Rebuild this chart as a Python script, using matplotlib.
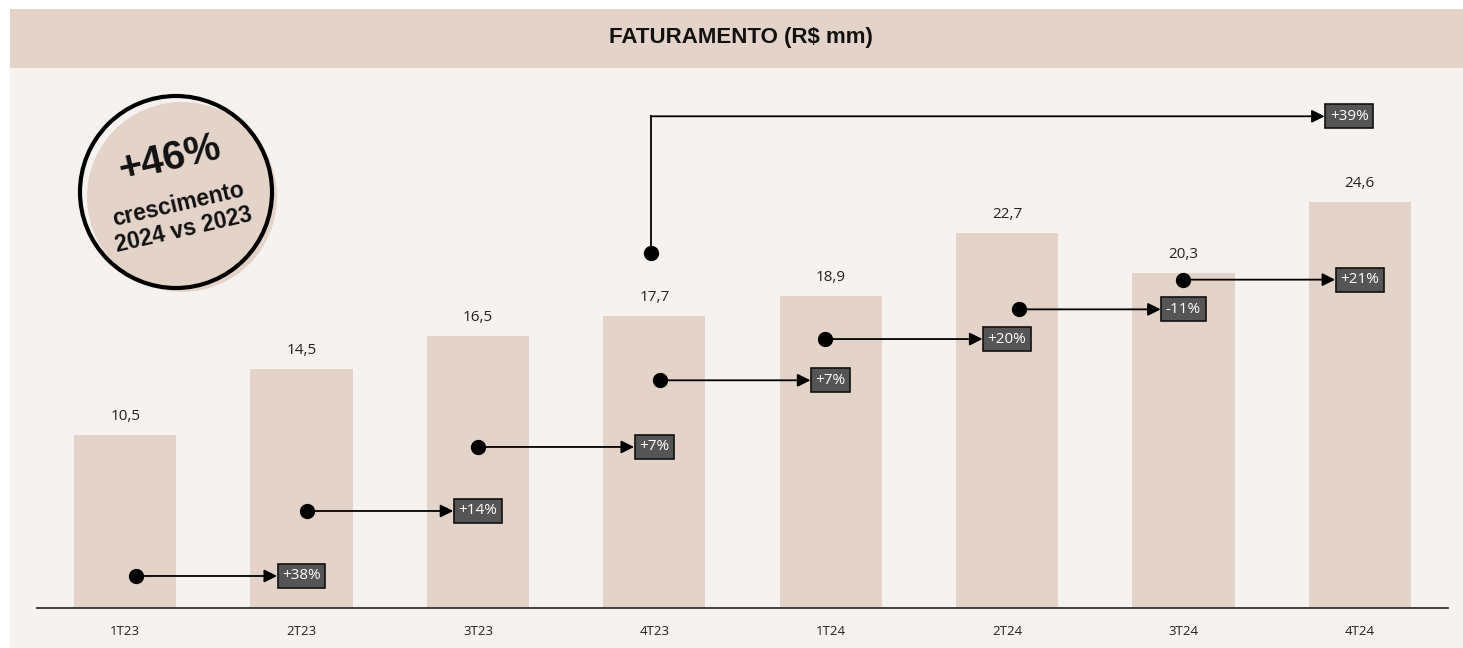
import matplotlib
matplotlib.use("Agg")
import matplotlib.pyplot as plt
from matplotlib.patches import Rectangle, Circle

# ---- data ----
categories = ["1T23", "2T23", "3T23", "4T23", "1T24", "2T24", "3T24", "4T24"]
revenue = [10.5, 14.5, 16.5, 17.7, 18.9, 22.7, 20.3, 24.6]
value_labels = ["10,5", "14,5", "16,5", "17,7", "18,9", "22,7", "20,3", "24,6"]
qoq_labels = ["+38%", "+14%", "+7%", "+7%", "+20%", "-11%", "+21%"]
qoq_levels = [1.94, 5.88, 9.76, 13.8, 16.3, 18.1, 19.9]
qoq_dot_offsets = [0.06, 0.03, 0.0, 0.03, -0.03, 0.07, 0.0]
yoy_label = "+39%"
yoy_from, yoy_to = 3, 7
yoy_dot_level = 21.5
yoy_line_level = 29.8
badge_big = "+46%"
badge_small = "crescimento\n2024 vs 2023"
title = "FATURAMENTO (R$ mm)"

# ---- style ----
W, H = 1463, 648
BAR = "#e3d3c8"
PANEL = "#f6f2ef"
BOXC = "#555555"
FONT = ["Liberation Sans", "DejaVu Sans"]
plt.rcParams["font.family"] = FONT

fig = plt.figure(figsize=(W / 100, H / 100), dpi=100, facecolor="white")

# background overlay axes in pixel coords
bg = fig.add_axes([0, 0, 1, 1], zorder=0)
bg.set_xlim(0, W)
bg.set_ylim(H, 0)
bg.axis("off")
bg.add_patch(Rectangle((10, 68), W - 10, H - 68, facecolor=PANEL, edgecolor="none"))
bg.add_patch(Rectangle((10, 9), W - 10, 59, facecolor=BAR, edgecolor="none"))
bg.text(741, 38, title, ha="center", va="center", fontsize=16, fontweight="bold",
        color="#111111")

# main axes
left, right, top, base = 37, 1448, 68, 608
ax = fig.add_axes([left / W, (H - base) / H, (right - left) / W, (base - top) / H], zorder=1)
ax.set_facecolor("none")
x = list(range(len(categories)))
ax.set_xlim(-0.5, len(categories) - 0.5)
ax.set_ylim(0, (base - top) / 16.5)
ax.bar(x, revenue, width=0.58, color=BAR, zorder=1)
for xi, v, lab in zip(x, revenue, value_labels):
    ax.annotate(lab, (xi, v), xytext=(0, 8), textcoords="offset points",
                ha="center", va="bottom", fontsize=11, color="#222222",
                family=["Open Sans", "DejaVu Sans"])

for s in ["top", "right", "left"]:
    ax.spines[s].set_visible(False)
ax.spines["bottom"].set_color("#333333")
ax.spines["bottom"].set_linewidth(1.3)
ax.set_yticks([])
ax.set_xticks(x)
ax.set_xticklabels(categories, fontsize=9.5, color="#222222", family=["Open Sans", "DejaVu Sans"])
ax.tick_params(axis="x", length=0, pad=12)

box = dict(boxstyle="square,pad=0.3", facecolor=BOXC, edgecolor="#111111", linewidth=1.2)
arrow = dict(arrowstyle="<|-,head_length=0.7,head_width=0.35", color="black", lw=1.3,
             shrinkA=0, shrinkB=0)

for i, (lab, lvl, off) in enumerate(zip(qoq_labels, qoq_levels, qoq_dot_offsets)):
    xd = i + off
    ax.plot(xd, lvl, "o", color="black", markersize=10, zorder=4)
    ax.annotate(lab, xy=(xd, lvl), xytext=(i + 1, lvl), ha="center", va="center",
                fontsize=11, color="white", bbox=box, arrowprops=arrow, zorder=5,
                family=["Open Sans", "DejaVu Sans"])

# YoY connector
xd = yoy_from - 0.02
ax.plot(xd, yoy_dot_level, "o", color="black", markersize=10, zorder=4)
ax.plot([xd, xd], [yoy_dot_level, yoy_line_level], color="black", lw=1.3, zorder=3)
ax.annotate(yoy_label, xy=(xd, yoy_line_level), xytext=(yoy_to - 0.06, yoy_line_level),
            ha="center", va="center", fontsize=11, color="white", bbox=box,
            arrowprops=arrow, zorder=5, family=["Open Sans", "DejaVu Sans"])

# badge
ov = fig.add_axes([0, 0, 1, 1], zorder=2)
ov.set_xlim(0, W)
ov.set_ylim(H, 0)
ov.axis("off")
ov.add_patch(Circle((182, 197), 95, facecolor=BAR, edgecolor="none"))
ov.add_patch(Circle((176, 192), 96, facecolor="none", edgecolor="black", linewidth=3))
ov.text(170, 159, badge_big, ha="center", va="center", fontsize=29, fontweight="bold",
        rotation=13, color="#111111")
ov.text(181, 217, badge_small, ha="center", va="center", fontsize=16.5, fontweight="bold",
        rotation=13, linespacing=1.15, color="#111111")

fig.savefig("out.png", dpi=100, facecolor="white")
